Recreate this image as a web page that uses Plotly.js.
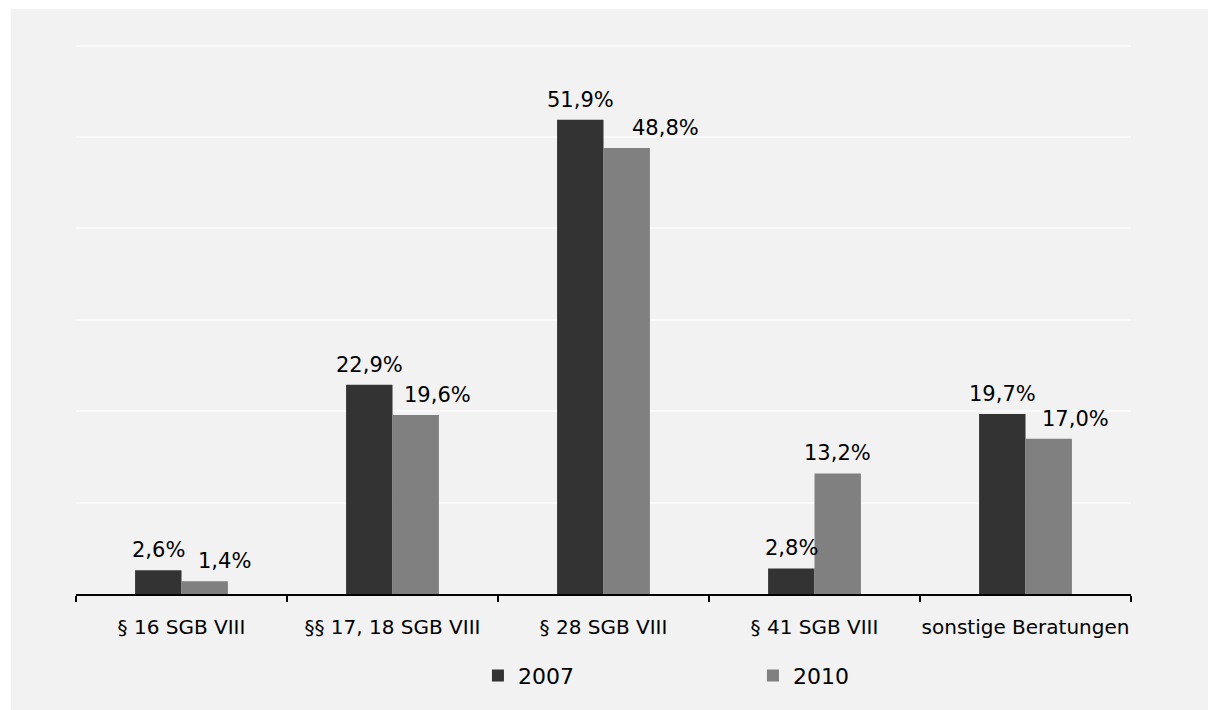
<!DOCTYPE html>
<html>
<head>
<meta charset="utf-8">
<script src="https://cdn.plot.ly/plotly-3.0.1.min.js"></script>
<style>
  html, body { margin: 0; padding: 0; background: #ffffff; }
  #chart { position: absolute; left: 11px; top: 9px; width: 1197px; height: 701px; }
</style>
</head>
<body>
<div id="chart"></div>
<script>
const categories = ["§ 16 SGB VIII", "§§ 17, 18 SGB VIII", "§ 28 SGB VIII", "§ 41 SGB VIII", "sonstige Beratungen"];
const seriesNames = ["2007", "2010"];
const values2007 = [2.6, 22.9, 51.9, 2.8, 19.7];
const values2010 = [1.4, 19.6, 48.8, 13.2, 17.0];

// label placement (pixels): horizontal nudges of the value labels as in the original
const labelNudge2007 = [0, 0, 0, 0, 0];
const labelNudge2010 = [20, 22, 39, 0, 27];

const FONT = "DejaVu Sans, Verdana, sans-serif";

const traces = [
  {
    type: "bar", name: seriesNames[0], x: categories, y: values2007,
    marker: { color: "#333333" }, hoverinfo: "none"
  },
  {
    type: "bar", name: seriesNames[1], x: categories, y: values2010,
    marker: { color: "#808080" }, hoverinfo: "none"
  }
];

// value labels placed at the data points of each bar
const fmt = v => v.toFixed(1).replace(".", ",") + "%";
const annotations = [];
[[values2007, labelNudge2007, -23.2], [values2010, labelNudge2010, 23.2]].forEach(([vals, nudge, off]) => {
  vals.forEach((v, i) => {
    annotations.push({
      x: categories[i], y: v, xref: "x", yref: "y",
      text: fmt(v), showarrow: false,
      xanchor: "center", yanchor: "bottom",
      xshift: off + nudge[i], yshift: 6,
      font: { family: FONT, size: 21, color: "#000000" }
    });
  });
});

const layout = {
  width: 1197, height: 701,
  paper_bgcolor: "#f2f2f2", plot_bgcolor: "#f2f2f2",
  margin: { l: 65, r: 77, t: 34, b: 116 },
  font: { family: FONT, size: 20, color: "#000000" },
  barmode: "group", bargap: 0.56, bargroupgap: 0,
  showlegend: true,
  annotations: annotations,
  legend: {
    orientation: "h", x: 0.381, xanchor: "left", y: -0.11, yanchor: "top",
    entrywidth: 230, entrywidthmode: "pixels",
    font: { family: FONT, size: 22, color: "#000000" },
    bgcolor: "rgba(0,0,0,0)"
  },
  xaxis: {
    showline: true, linecolor: "#000000", linewidth: 1.5,
    ticks: "outside", tickson: "boundaries", ticklen: 6, tickcolor: "#000000", tickwidth: 1.5,
    tickangle: 0, ticklabelstandoff: 14,
    showgrid: false, tickfont: { family: FONT, size: 20, color: "#000000" },
    fixedrange: true
  },
  yaxis: {
    range: [0, 60.3], tick0: 0, dtick: 10, showticklabels: false, ticks: "",
    showgrid: true, gridcolor: "#fafafa", gridwidth: 2,
    zeroline: false, showline: false, fixedrange: true
  }
};

Plotly.newPlot("chart", traces, layout, { staticPlot: true, displayModeBar: false });
</script>
</body>
</html>
